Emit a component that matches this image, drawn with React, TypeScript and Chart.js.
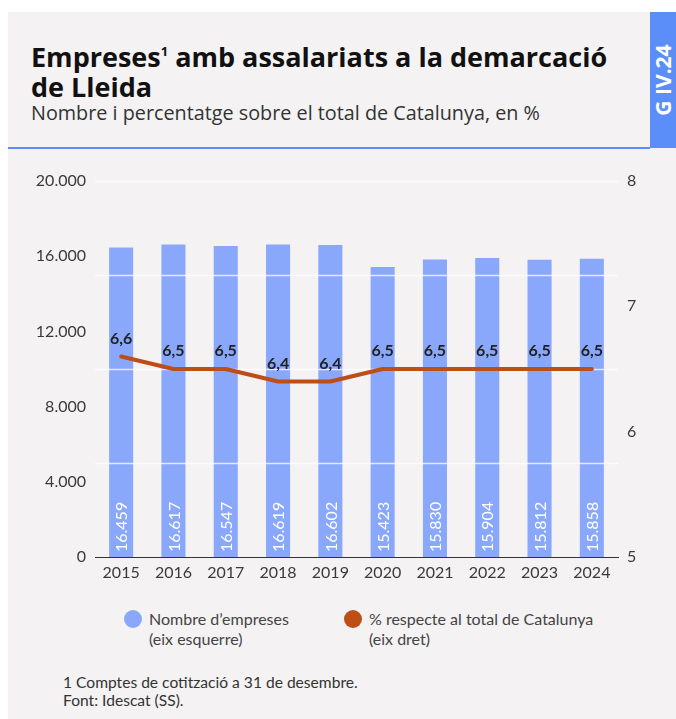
import React, { useEffect, useRef } from "react";
import { Chart, registerables } from "chart.js";

Chart.register(...registerables);

const years = ["2015", "2016", "2017", "2018", "2019", "2020", "2021", "2022", "2023", "2024"];
const empreses = [16459, 16617, 16547, 16619, 16602, 15423, 15830, 15904, 15812, 15858];
const percentCatalunya = [6.6, 6.5, 6.5, 6.4, 6.4, 6.5, 6.5, 6.5, 6.5, 6.5];
const leftAxis = { min: 0, max: 20000, step: 4000 };
const rightAxis = { min: 5, max: 8, step: 1 };
const gridSteps = 4;

const FONT = "Lato, 'DejaVu Sans', sans-serif";
const HFONT = "'Open Sans', Lato, sans-serif";
const BG = "#f4f2f3";
const BAR = "#8aa8fb";
const LINE = "#bc4e16";
const TAB = "#5b8ef8";
const TXT = "#3a3a3a";

const thousands = (v: number) => String(Math.round(v)).replace(/\B(?=(\d{3})+(?!\d))/g, ".");
const comma = (v: number) => v.toFixed(1).replace(".", ",");

const overlayPlugin = {
  id: "overlay",
  afterDatasetDraw(chart: any, args: any) {
    if (args.index !== 0) return;
    const s = chart.scales.yg;
    const { left, right } = chart.chartArea;
    const ctx = chart.ctx;
    ctx.save();
    ctx.strokeStyle = "rgba(255,255,255,0.75)";
    ctx.lineWidth = 1.5;
    for (let i = 1; i <= gridSteps; i++) {
      const y = Math.round(s.getPixelForValue(i)) + 0.5;
      ctx.beginPath();
      ctx.moveTo(left, y);
      ctx.lineTo(right, y);
      ctx.stroke();
    }
    ctx.restore();
  },
  afterDatasetsDraw(chart: any) {
    const ctx = chart.ctx;
    const bars = chart.getDatasetMeta(0).data;
    ctx.save();
    ctx.fillStyle = "#ffffff";
    ctx.font = `16px ${FONT}`;
    ctx.textAlign = "left";
    ctx.textBaseline = "middle";
    bars.forEach((el: any, i: number) => {
      ctx.save();
      ctx.translate(el.x + 1, el.base - 5);
      ctx.rotate(-Math.PI / 2);
      ctx.fillText(thousands(empreses[i]), 0, 0);
      ctx.restore();
    });
    const pts = chart.getDatasetMeta(1).data;
    ctx.fillStyle = "#222222";
    ctx.font = `bold 16px ${FONT}`;
    ctx.textAlign = "center";
    pts.forEach((p: any, i: number) => {
      ctx.fillText(comma(percentCatalunya[i]), p.x, p.y - 18);
    });
    ctx.restore();
  },
};

function ChartView() {
  const ref = useRef<HTMLCanvasElement | null>(null);
  useEffect(() => {
    if (!ref.current) return;
    const tickFont = { family: FONT, size: 16 };
    const chart = new Chart(ref.current, {
      type: "bar",
      data: {
        labels: years,
        datasets: [
          {
            type: "bar",
            label: "Nombre d’empreses",
            data: empreses,
            backgroundColor: BAR,
            yAxisID: "y",
            barPercentage: 0.46,
            categoryPercentage: 1,
            order: 1,
          } as any,
          {
            type: "line",
            label: "% respecte al total de Catalunya",
            data: percentCatalunya,
            borderColor: LINE,
            backgroundColor: LINE,
            borderWidth: 4,
            pointRadius: 0,
            tension: 0,
            borderCapStyle: "round",
            borderJoinStyle: "round",
            yAxisID: "y1",
            order: 0,
          } as any,
        ],
      },
      options: {
        animation: false,
        responsive: false,
        maintainAspectRatio: false,
        layout: { padding: { top: 21, left: 0, right: 0, bottom: 0 } },
        plugins: { legend: { display: false }, tooltip: { enabled: false } },
        scales: {
          x: {
            grid: { display: false, drawTicks: false },
            border: { display: true, color: "#333333", width: 1 },
            ticks: { color: TXT, font: tickFont, padding: 6 },
            afterFit: (s: any) => {
              s.height = 33;
            },
          },
          y: {
            position: "left",
            min: leftAxis.min,
            max: leftAxis.max,
            grid: { display: false, drawTicks: false },
            border: { display: false },
            ticks: {
              stepSize: leftAxis.step,
              color: TXT,
              font: tickFont,
              padding: 9,
              callback: (v: any) => thousands(Number(v)),
            },
            afterFit: (s: any) => {
              s.width = 87;
            },
          },
          y1: {
            position: "right",
            min: rightAxis.min,
            max: rightAxis.max,
            grid: { display: false, drawTicks: false },
            border: { display: false },
            ticks: { stepSize: rightAxis.step, color: TXT, font: tickFont, padding: 9 },
            afterFit: (s: any) => {
              s.width = 50;
            },
          },
          yg: { display: false, min: 0, max: gridSteps },
        },
      } as any,
      plugins: [overlayPlugin],
    });
    return () => chart.destroy();
  }, []);
  return <canvas ref={ref} width={660} height={430} style={{ display: "block", width: 660, height: 430 }} />;
}

export default function App() {
  const dot = (c: string, left: number) => (
    <div style={{ position: "absolute", left, top: 598, width: 18, height: 18, borderRadius: 9, background: c }} />
  );
  const legendText: React.CSSProperties = {
    position: "absolute",
    top: 597,
    fontSize: 16,
    lineHeight: "20px",
    color: "#444",
    whiteSpace: "nowrap",
  };
  return (
    <div
      style={{
        position: "absolute",
        left: 8,
        top: 12,
        width: 668,
        height: 707,
        background: BG,
        fontFamily: FONT,
        overflow: "hidden",
      }}
    >
      <div
        style={{
          position: "absolute",
          left: 23,
          top: 30,
          fontSize: 27,
          lineHeight: "30px",
          fontWeight: 700,
          color: "#111",
          width: 615,
          whiteSpace: "nowrap",
          fontFamily: HFONT,
        }}
      >
        Empreses<sup style={{ fontSize: 13, lineHeight: 0, verticalAlign: "11px" }}>1</sup> amb assalariats a la demarcació
        <br />
        de Lleida
      </div>
      <div
        style={{
          position: "absolute",
          left: 23,
          top: 90,
          fontSize: 19.8,
          lineHeight: "22px",
          color: "#333",
          whiteSpace: "nowrap",
          fontFamily: HFONT,
        }}
      >
        Nombre i percentatge sobre el total de Catalunya, en %
      </div>
      <div style={{ position: "absolute", left: 642, top: 0, width: 26, height: 136, background: TAB }}>
        <div
          style={{
            position: "absolute",
            left: 13,
            top: 68,
            transform: "translate(-50%, -50%) rotate(-90deg)",
            color: "#fff",
            fontWeight: 700,
            fontSize: 21,
            whiteSpace: "nowrap",
            fontFamily: "'Open Sans', sans-serif",
          }}
        >
          G IV.24
        </div>
      </div>
      <div style={{ position: "absolute", left: 0, top: 135, width: 642, height: 2, background: TAB }} />
      <div style={{ position: "absolute", left: 0, top: 148 }}>
        <ChartView />
      </div>
      {dot(BAR, 116)}
      <div style={{ ...legendText, left: 141 }}>
        Nombre d’empreses
        <br />
        (eix esquerre)
      </div>
      {dot(LINE, 336)}
      <div style={{ ...legendText, left: 361 }}>
        % respecte al total de Catalunya
        <br />
        (eix dret)
      </div>
      <div style={{ position: "absolute", left: 55, top: 661, fontSize: 15.6, lineHeight: "18px", color: "#333", whiteSpace: "nowrap" }}>
        1 Comptes de cotització a 31 de desembre.
        <br />
        Font: Idescat (SS).
      </div>
    </div>
  );
}
